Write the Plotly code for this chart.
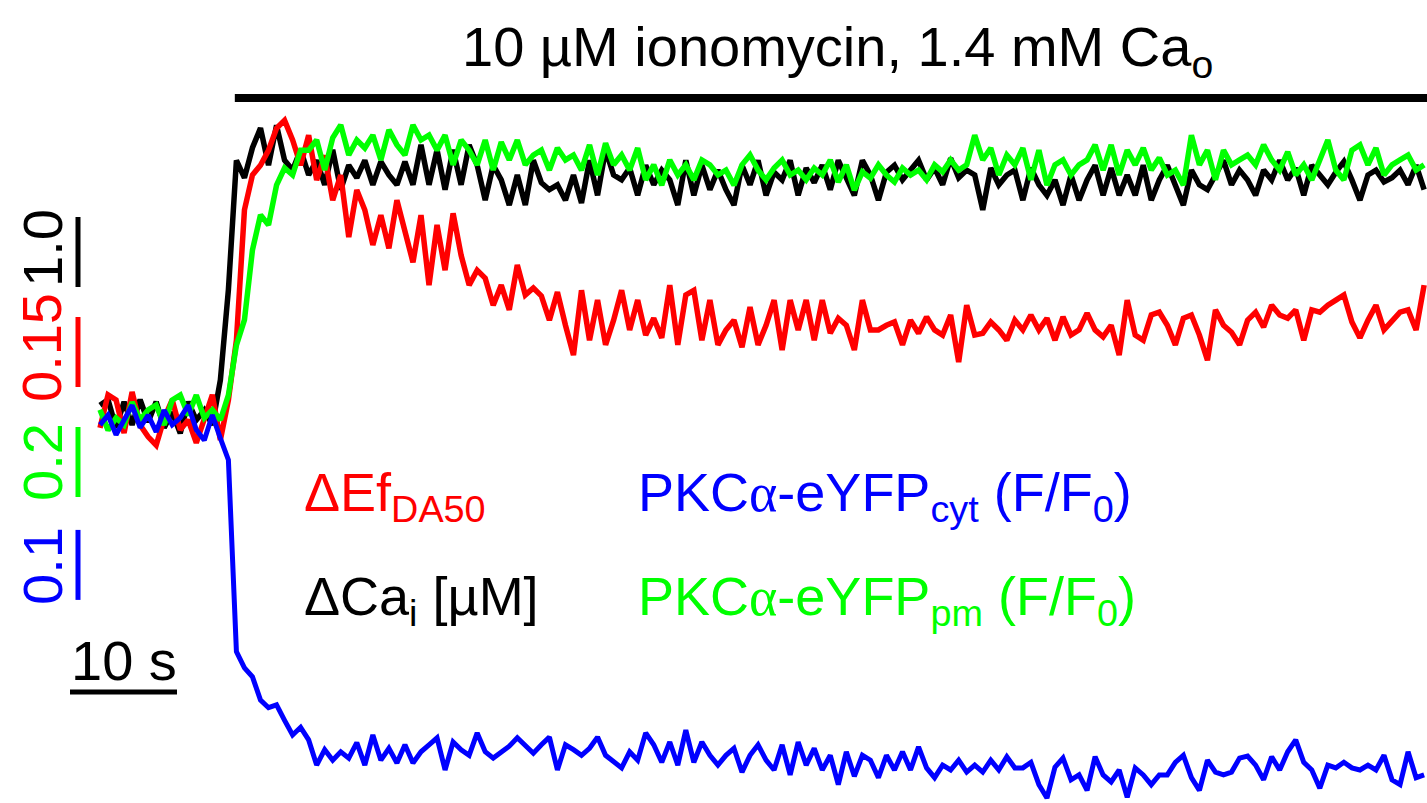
import numpy as np
import plotly.graph_objects as go

# ---------------- data ----------------
DT = 0.75  # s between samples

# Delta Ef DA50 (red)
ef_da50 = [
    -0.017, 0.054, 0.043, -0.028, 0.060, -0.011, -0.036, -0.054, 0.004, 0.043,
    -0.021, 0.000, -0.049, 0.004, 0.054, -0.043, 0.043, 0.171, 0.450, 0.525,
    0.546, 0.578, 0.625, 0.642, 0.600, 0.546, 0.610, 0.514, 0.567, 0.471,
    0.525, 0.392, 0.493, 0.450, 0.375, 0.439, 0.368, 0.471, 0.403, 0.338,
    0.439, 0.289, 0.418, 0.321, 0.443, 0.353, 0.289, 0.321, 0.304, 0.246,
    0.289, 0.236, 0.332, 0.268, 0.283, 0.266, 0.214, 0.274, 0.203, 0.139,
    0.278, 0.171, 0.257, 0.161, 0.214, 0.278, 0.193, 0.257, 0.182, 0.218,
    0.176, 0.289, 0.161, 0.268, 0.278, 0.171, 0.257, 0.161, 0.193, 0.214,
    0.156, 0.242, 0.161, 0.203, 0.257, 0.150, 0.257, 0.193, 0.257, 0.171,
    0.257, 0.186, 0.218, 0.203, 0.150, 0.257, 0.193, 0.193, 0.203, 0.210,
    0.161, 0.214, 0.186, 0.221, 0.193, 0.182, 0.225, 0.124, 0.246, 0.182,
    0.186, 0.210, 0.193, 0.171, 0.214, 0.193, 0.225, 0.193, 0.218, 0.171,
    0.221, 0.182, 0.193, 0.229, 0.193, 0.178, 0.203, 0.139, 0.257, 0.182,
    0.171, 0.225, 0.231, 0.203, 0.161, 0.218, 0.225, 0.182, 0.128, 0.236,
    0.203, 0.188, 0.161, 0.214, 0.231, 0.199, 0.246, 0.225, 0.218, 0.236,
    0.171, 0.236, 0.231, 0.246, 0.257, 0.268, 0.210, 0.176, 0.214, 0.246,
    0.193, 0.214, 0.231, 0.236, 0.193, 0.289,
]

# Delta Ca_i in uM (black)
ca_i = [
    0.21, 0.29, -0.11, 0.26, -0.07, 0.29, -0.03, 0.26, -0.11, 0.11,
    -0.19, 0.26, 0.00, 0.14, -0.07, 0.57, 1.86, 3.71, 3.46, 3.89,
    4.17, 3.64, 4.21, 3.71, 3.57, 3.86, 3.50, 3.71, 3.36, 3.86,
    3.29, 3.64, 3.46, 3.71, 3.36, 3.69, 3.50, 3.36, 3.69, 3.36,
    3.93, 3.36, 3.86, 3.29, 3.86, 3.36, 3.93, 3.64, 3.14, 3.64,
    3.43, 3.07, 3.50, 3.07, 3.71, 3.39, 3.29, 3.36, 3.14, 3.50,
    3.10, 3.71, 3.21, 3.86, 3.50, 3.43, 3.60, 3.21, 3.64, 3.36,
    3.57, 3.43, 3.07, 3.71, 3.21, 3.64, 3.29, 3.57, 3.29, 3.07,
    3.64, 3.36, 3.71, 3.21, 3.54, 3.43, 3.71, 3.21, 3.60, 3.39,
    3.64, 3.29, 3.71, 3.46, 3.21, 3.71, 3.50, 3.14, 3.54, 3.64,
    3.43, 3.57, 3.71, 3.43, 3.60, 3.36, 3.74, 3.46, 3.57, 3.50,
    3.00, 3.60, 3.36, 3.50, 3.57, 3.14, 3.60, 3.36, 3.21, 3.43,
    3.07, 3.50, 3.14, 3.43, 3.64, 3.21, 3.60, 3.21, 3.50, 3.21,
    3.64, 3.14, 3.43, 3.64, 3.36, 3.07, 3.57, 3.36, 3.29, 3.50,
    3.71, 3.36, 3.57, 3.43, 3.21, 3.57, 3.43, 3.71, 3.43, 3.60,
    3.21, 3.64, 3.50, 3.36, 3.54, 3.69, 3.43, 3.14, 3.50, 3.57,
    3.40, 3.46, 3.57, 3.36, 3.64, 3.29,
]

# PKCalpha-eYFP plasma membrane, F/F0 (green)
pkc_pm = [
    1.029, 0.971, 1.006, 0.986, 1.051, 1.000, 1.029, 1.043, 0.986, 1.057,
    1.071, 1.014, 1.071, 1.006, 1.029, 1.000, 1.071, 1.214, 1.286, 1.486,
    1.586, 1.557, 1.671, 1.720, 1.700, 1.771, 1.771, 1.800, 1.714, 1.806,
    1.843, 1.757, 1.800, 1.777, 1.814, 1.743, 1.829, 1.786, 1.757, 1.843,
    1.800, 1.814, 1.771, 1.814, 1.729, 1.800, 1.771, 1.729, 1.800, 1.714,
    1.794, 1.743, 1.800, 1.729, 1.757, 1.771, 1.714, 1.777, 1.743, 1.757,
    1.714, 1.786, 1.700, 1.791, 1.729, 1.757, 1.714, 1.777, 1.686, 1.729,
    1.671, 1.743, 1.700, 1.729, 1.686, 1.743, 1.729, 1.700, 1.714, 1.671,
    1.729, 1.757, 1.714, 1.686, 1.720, 1.743, 1.700, 1.714, 1.686, 1.720,
    1.700, 1.743, 1.680, 1.729, 1.657, 1.709, 1.691, 1.729, 1.700, 1.680,
    1.720, 1.700, 1.714, 1.686, 1.729, 1.709, 1.743, 1.714, 1.729, 1.814,
    1.743, 1.777, 1.700, 1.757, 1.729, 1.777, 1.686, 1.771, 1.671, 1.729,
    1.743, 1.700, 1.729, 1.743, 1.786, 1.714, 1.786, 1.700, 1.771, 1.729,
    1.777, 1.714, 1.749, 1.700, 1.714, 1.671, 1.814, 1.729, 1.771, 1.686,
    1.771, 1.729, 1.743, 1.757, 1.729, 1.786, 1.743, 1.714, 1.766, 1.700,
    1.729, 1.686, 1.743, 1.800, 1.714, 1.686, 1.771, 1.786, 1.729, 1.777,
    1.700, 1.729, 1.743, 1.757, 1.714, 1.729,
]

# PKCalpha-eYFP cytosol, F/F0 (blue)
pkc_cyt = [
    0.993, 1.007, 0.979, 1.000, 1.021, 0.989, 1.007, 0.983, 1.014, 0.993,
    1.003, 1.021, 0.986, 0.971, 1.007, 0.974, 0.943, 0.669, 0.646, 0.633,
    0.600, 0.589, 0.593, 0.571, 0.550, 0.561, 0.543, 0.507, 0.529, 0.514,
    0.526, 0.517, 0.539, 0.507, 0.550, 0.514, 0.531, 0.510, 0.536, 0.510,
    0.526, 0.536, 0.546, 0.500, 0.540, 0.529, 0.521, 0.553, 0.526, 0.517,
    0.526, 0.534, 0.546, 0.536, 0.524, 0.536, 0.547, 0.500, 0.536, 0.529,
    0.521, 0.531, 0.547, 0.521, 0.511, 0.503, 0.526, 0.514, 0.553, 0.536,
    0.511, 0.540, 0.507, 0.557, 0.511, 0.540, 0.521, 0.507, 0.521, 0.531,
    0.497, 0.521, 0.536, 0.514, 0.500, 0.536, 0.493, 0.540, 0.507, 0.531,
    0.500, 0.521, 0.479, 0.526, 0.491, 0.521, 0.514, 0.489, 0.521, 0.500,
    0.526, 0.500, 0.533, 0.503, 0.489, 0.507, 0.500, 0.514, 0.497, 0.507,
    0.497, 0.514, 0.500, 0.519, 0.503, 0.503, 0.511, 0.479, 0.460, 0.504,
    0.517, 0.486, 0.493, 0.471, 0.519, 0.493, 0.483, 0.500, 0.461, 0.503,
    0.493, 0.479, 0.493, 0.493, 0.511, 0.521, 0.489, 0.471, 0.514, 0.497,
    0.493, 0.497, 0.517, 0.520, 0.507, 0.486, 0.519, 0.500, 0.526, 0.543,
    0.511, 0.500, 0.474, 0.507, 0.503, 0.511, 0.503, 0.500, 0.507, 0.500,
    0.521, 0.486, 0.479, 0.526, 0.489, 0.493,
]

ionomycin_start = 12.6   # s
scale_time = 10          # s
scale_ca = 1.0           # uM
scale_ef = 0.15
scale_pm = 0.2
scale_cyt = 0.1

# ---------------- layout helpers ----------------
W, H = 1427, 803
PX_PER_S = 10.7
T_LEFT = -100 / PX_PER_S
T_RIGHT = (W - 100) / PX_PER_S
BASE_PX = 420      # pixel row of the baseline of all traces
BAR_PX = 70        # pixel length of each vertical scale bar

def yrange(base, per_bar):
    k = per_bar / BAR_PX
    return [base - (H - BASE_PX) * k, base + BASE_PX * k]

def px(x):
    return x / W

def py(y):
    return 1 - y / H

FONT = "Liberation Sans, Arial, Helvetica, sans-serif"
RED, GREEN, BLUE, BLACK = "#ff0000", "#00ff00", "#0000ff", "#000000"

def tvec(series):
    return np.arange(len(series)) * DT

fig = go.Figure()
fig.add_trace(go.Scatter(x=tvec(pkc_cyt), y=pkc_cyt, yaxis="y4", mode="lines",
                         line=dict(color=BLUE, width=5)))
fig.add_trace(go.Scatter(x=tvec(pkc_pm), y=pkc_pm, yaxis="y3", mode="lines",
                         line=dict(color=GREEN, width=5.5)))
fig.add_trace(go.Scatter(x=tvec(ca_i), y=ca_i, yaxis="y", mode="lines",
                         line=dict(color=BLACK, width=5.5)))
fig.add_trace(go.Scatter(x=tvec(ef_da50), y=ef_da50, yaxis="y2", mode="lines",
                         line=dict(color=RED, width=5.5)))

ax_common = dict(visible=False, showgrid=False, zeroline=False, fixedrange=True)
fig.update_layout(
    width=W, height=H,
    margin=dict(l=0, r=0, t=0, b=0),
    paper_bgcolor="white", plot_bgcolor="white",
    showlegend=False,
    xaxis=dict(range=[T_LEFT, T_RIGHT], domain=[0, 1], **ax_common),
    yaxis=dict(range=yrange(0.0, scale_ca), domain=[0, 1], **ax_common),
    yaxis2=dict(range=yrange(0.0, scale_ef), overlaying="y", **ax_common),
    yaxis3=dict(range=yrange(1.0, scale_pm), overlaying="y", **ax_common),
    yaxis4=dict(range=yrange(1.0, scale_cyt), overlaying="y", **ax_common),
)

# vertical scale bars (in each trace's own units)
bar_t = (78 - 100) / PX_PER_S
bars = [("y", 1.9, scale_ca, BLACK), ("y2", 0.0707, scale_ef, RED),
        ("y3", 0.78, scale_pm, GREEN), ("y4", 0.743, scale_cyt, BLUE)]
for yref, y0, length, col in bars:
    fig.add_shape(type="line", xref="x", yref=yref, x0=bar_t, x1=bar_t,
                  y0=y0, y1=y0 + length, line=dict(color=col, width=5))

# time scale bar
t0 = (70 - 100) / PX_PER_S
fig.add_shape(type="line", xref="x", yref="paper", x0=t0, x1=t0 + scale_time,
              y0=py(692), y1=py(692), line=dict(color=BLACK, width=5))

# ionomycin application bar
fig.add_shape(type="line", xref="x", yref="paper", x0=ionomycin_start, x1=T_RIGHT + 1,
              y0=py(98), y1=py(98), line=dict(color=BLACK, width=8))

FS = 56
def ann(text, x, y, color, xanchor="left", angle=0, size=FS):
    fig.add_annotation(text=text, x=px(x), y=py(y), xref="paper", yref="paper",
                       xanchor=xanchor, yanchor="middle", showarrow=False,
                       textangle=angle, font=dict(family=FONT, size=size, color=color))

ALPHA = '<span style="font-family:Liberation Serif, Times New Roman, serif">α</span>'

ann("10 µM ionomycin, 1.4 mM Ca<sub>o</sub>", 837, 50, BLACK, xanchor="center")
ann("ΔEf<sub>DA50</sub>", 302, 496, RED, size=54)
ann("ΔCa<sub>i</sub> [µM]", 302, 600, BLACK, size=54)
ann("PKC" + ALPHA + "-eYFP<sub>cyt</sub> (F/F<sub>0</sub>)", 636, 496, BLUE, size=54)
ann("PKC" + ALPHA + "-eYFP<sub>pm</sub> (F/F<sub>0</sub>)", 636, 600, GREEN, size=54)
ann("10 s", 124, 660, BLACK, xanchor="center")

# rotated scale labels
ann("1.0", 42, 248, BLACK, xanchor="center", angle=-90)
ann("0.15", 42, 348, RED, xanchor="center", angle=-90)
ann("0.2", 42, 462, GREEN, xanchor="center", angle=-90)
ann("0.1", 42, 566, BLUE, xanchor="center", angle=-90)

fig.write_html("out.html")
